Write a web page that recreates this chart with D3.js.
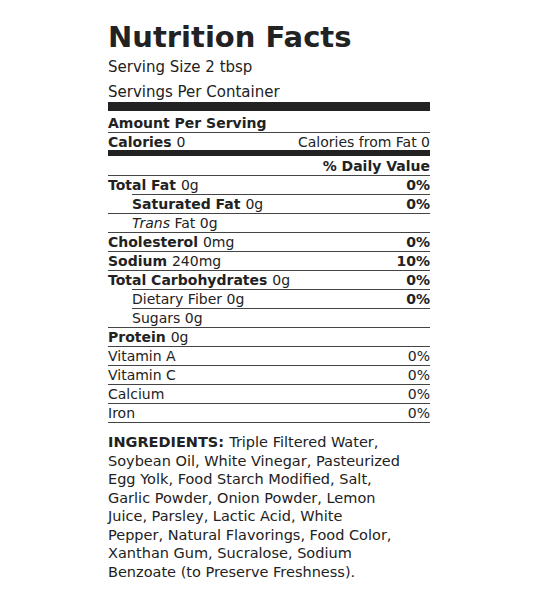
<!DOCTYPE html>
<html><head><meta charset="utf-8">
<script src="https://cdn.jsdelivr.net/npm/d3@7"></script>
<style>body{margin:0;background:#fff}text{font-family:"DejaVu Sans",Verdana,sans-serif;fill:#222}</style>
</head><body><div id="chart"></div>
<script>
var width = 540, height = 600
var left = 108, right = 430

// nutrient rows: label, amount, daily value %, bold label, indent
var rowLabels = ["Total Fat", "Saturated Fat", "Trans Fat", "Cholesterol", "Sodium", "Total Carbohydrates", "Dietary Fiber", "Sugars", "Protein", "Vitamin A", "Vitamin C", "Calcium", "Iron"]
var rowAmounts = ["0g", "0g", "0g", "0mg", "240mg", "0g", "0g", "0g", "0g", "", "", "", ""]
var rowDaily = ["0%", "0%", "", "0%", "10%", "0%", "0%", "", "", "0%", "0%", "0%", "0%"]
var rowBold = [1, 1, 0, 1, 1, 1, 0, 0, 1, 0, 0, 0, 0]
var dailyBold = [1, 1, 0, 1, 1, 1, 1, 0, 0, 0, 0, 0, 0]
var rowIndent = [0, 1, 1, 0, 0, 0, 1, 1, 0, 0, 0, 0, 0]
var lineIndent = [1, 0, 0, 0, 0, 1, 1, 0, 0, 0, 0, 0, 0]
var ingredientLines = [
  "Triple Filtered Water,",
  "Soybean Oil, White Vinegar, Pasteurized",
  "Egg Yolk, Food Starch Modified, Salt,",
  "Garlic Powder, Onion Powder, Lemon",
  "Juice, Parsley, Lactic Acid, White",
  "Pepper, Natural Flavorings, Food Color,",
  "Xanthan Gum, Sucralose, Sodium",
  "Benzoate (to Preserve Freshness)."
]

var svg = d3.select("#chart").append("svg").attr("width", width).attr("height", height)

var y = d3.scaleLinear().domain([0, 1]).range([190, 209])
var yIng = d3.scaleLinear().domain([0, 1]).range([447, 465.5])

// header
svg.append("text").attr("x", left).attr("y", 47).style("font-size", "29px").style("font-weight", "bold").text("Nutrition Facts")
svg.append("text").attr("x", left).attr("y", 72).style("font-size", "15px").text("Serving Size 2  tbsp")
svg.append("text").attr("x", left).attr("y", 97).style("font-size", "15px").text("Servings Per Container")
svg.append("rect").attr("x", left).attr("y", 102).attr("width", right - left).attr("height", 9).attr("fill", "#222")
svg.append("text").attr("x", left).attr("y", 128).style("font-size", "14px").style("font-weight", "bold").text("Amount Per Serving")
svg.append("line").attr("x1", left).attr("x2", right).attr("y1", 132.5).attr("y2", 132.5).attr("stroke", "#444")
var cal = svg.append("text").attr("x", left).attr("y", 147).style("font-size", "14px")
cal.append("tspan").style("font-weight", "bold").text("Calories ")
cal.append("tspan").text("0")
svg.append("text").attr("x", right).attr("y", 147).attr("text-anchor", "end").style("font-size", "14px").text("Calories from Fat 0")
svg.append("rect").attr("x", left).attr("y", 150).attr("width", right - left).attr("height", 6).attr("fill", "#222")
svg.append("text").attr("x", right).attr("y", 171).attr("text-anchor", "end").style("font-size", "14px").style("font-weight", "bold").text("% Daily Value")
svg.append("line").attr("x1", left).attr("x2", right).attr("y1", 175.5).attr("y2", 175.5).attr("stroke", "#444")

var rows = svg.selectAll("g.row").data(rowLabels).enter().append("g").attr("class", "row")
rows.each(function(d, i) {
  var g = d3.select(this)
  var t = g.append("text").attr("x", left + (rowIndent[i] ? 24 : 0)).attr("y", y(i)).style("font-size", "14px")
  if (d == "Trans Fat") {
    t.append("tspan").style("font-style", "italic").text("Trans")
    t.append("tspan").text(" Fat ")
  } else {
    t.append("tspan").style("font-weight", rowBold[i] ? "bold" : "normal").text(d + (rowAmounts[i] ? " " : ""))
  }
  t.append("tspan").text(rowAmounts[i])
  g.append("text").attr("x", right).attr("y", y(i)).attr("text-anchor", "end").style("font-size", "14px")
    .style("font-weight", dailyBold[i] ? "bold" : "normal").text(rowDaily[i])
  g.append("line").attr("x1", left + (lineIndent[i] ? 24 : 0)).attr("x2", right)
    .attr("y1", y(i) + 4.5).attr("y2", y(i) + 4.5).attr("stroke", "#444")
})

// ingredients
svg.selectAll("text.ing").data(ingredientLines).enter().append("text").attr("class", "ing")
  .attr("x", left).attr("y", (d, i) => yIng(i)).style("font-size", "14.5px")
  .each(function(d, i) {
    if (i == 0) d3.select(this).append("tspan").style("font-weight", "bold").text("INGREDIENTS: ")
    d3.select(this).append("tspan").text(d)
  })
</script></body></html>
